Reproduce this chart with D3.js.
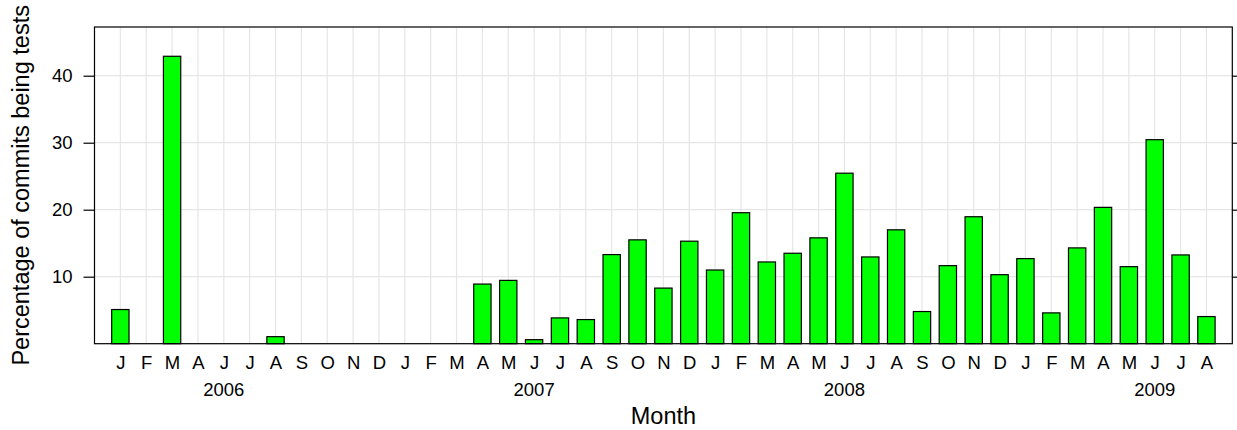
<!DOCTYPE html>
<html>
<head>
<meta charset="utf-8">
<script src="https://cdn.jsdelivr.net/npm/d3@7"></script>
<style>
html,body{margin:0;padding:0;background:#fff;}
svg{display:block;font-family:"Liberation Sans",Arial,Helvetica,sans-serif;}
</style>
</head>
<body>
<svg id="chart" width="1237" height="430"></svg>
<script>
// Data
const months = ["J","F","M","A","J","J","A","S","O","N","D",
  "J","F","M","A","M","J","J","A","S","O","N","D",
  "J","F","M","A","M","J","J","A","S","O","N","D",
  "J","F","M","A","M","J","J","A"];
const years = ["","","","","2006","","","","","","",
  "","","","","","2007","","","","","","",
  "","","","","","2008","","","","","","",
  "","","","","","2009","",""];
const values = [5.1,0,42.9,0,0,0,1.05,0,0,0,0,
  0,0,0,8.9,9.45,0.6,3.85,3.6,13.3,15.5,8.3,15.3,
  11.0,19.55,12.2,13.5,15.8,25.45,12.95,17.0,4.8,11.65,18.95,10.3,
  12.7,4.6,14.3,20.35,11.5,30.45,13.25,4.05];
const yTicks = [10,20,30,40];

const L = 94.5, R = 1232.3, T = 27, B = 343.7;
const FT = 18.5, FL = 23.5;
const svg = d3.select("#chart");
const idx = d3.range(months.length);

const x = d3.scalePoint().domain(idx).range([L, R]).padding(1);
const y = d3.scaleLinear().domain([0, 47.27]).range([B, T]);
const bw = x.step() * 0.67;

// grid
const g = svg.append("g");
g.selectAll("line.vg").data(idx).enter().append("line")
  .attr("x1", d => x(d)).attr("x2", d => x(d))
  .attr("y1", T).attr("y2", B)
  .attr("stroke", "#e6e6e6").attr("stroke-width", 1.2);
g.selectAll("line.hg").data(yTicks).enter().append("line")
  .attr("x1", L).attr("x2", R)
  .attr("y1", d => y(d)).attr("y2", d => y(d))
  .attr("stroke", "#e6e6e6").attr("stroke-width", 1.2);

// bars
svg.append("g").selectAll("rect").data(idx).enter().append("rect")
  .attr("x", d => x(d) - bw / 2)
  .attr("width", bw)
  .attr("y", d => y(values[d]))
  .attr("height", d => B - y(values[d]))
  .attr("fill", "#00ff00")
  .attr("stroke", "#000")
  .attr("stroke-width", 1.2);

// box
svg.append("rect").attr("x", L).attr("y", T).attr("width", R - L).attr("height", B - T)
  .attr("fill", "none").attr("stroke", "#000").attr("stroke-width", 1.2);

// left axis
const yAxisL = d3.axisLeft(y).tickValues(yTicks).tickSize(11).tickPadding(11);
const gl = svg.append("g").attr("transform", `translate(${L},0)`).call(yAxisL);
gl.select(".domain").remove();
gl.selectAll("text").attr("font-size", FT).attr("fill", "#000").attr("font-family", "Liberation Sans, Arial, sans-serif");
gl.selectAll("line").attr("stroke-width", 1.2);

// right axis
const yAxisR = d3.axisRight(y).tickValues(yTicks).tickSize(11).tickFormat("");
const gr = svg.append("g").attr("transform", `translate(${R},0)`).call(yAxisR);
gr.select(".domain").remove();
gr.selectAll("line").attr("stroke-width", 1.2);

// bottom labels
const xAxis = d3.axisBottom(x).tickSize(0).tickPadding(0).tickFormat(d => months[d]);
const gb = svg.append("g").attr("transform", `translate(0,${B})`).call(xAxis);
gb.select(".domain").remove();
gb.selectAll("text").attr("font-size", FT).attr("fill", "#000")
  .attr("font-family", "Liberation Sans, Arial, sans-serif")
  .attr("dy", null).attr("y", 25.5);

svg.append("g").selectAll("text").data(idx.filter(i => years[i])).enter().append("text")
  .attr("x", d => x(d)).attr("y", 396)
  .attr("text-anchor", "middle").attr("font-size", FT)
  .text(d => years[d]);

// titles
svg.append("text").attr("x", (L + R) / 2).attr("y", 423.5)
  .attr("text-anchor", "middle").attr("font-size", FL).text("Month");
svg.append("text")
  .attr("transform", `translate(28.5,${(T + B) / 2}) rotate(-90)`)
  .attr("text-anchor", "middle").attr("font-size", FL)
  .text("Percentage of commits being tests");
</script>
</body>
</html>
